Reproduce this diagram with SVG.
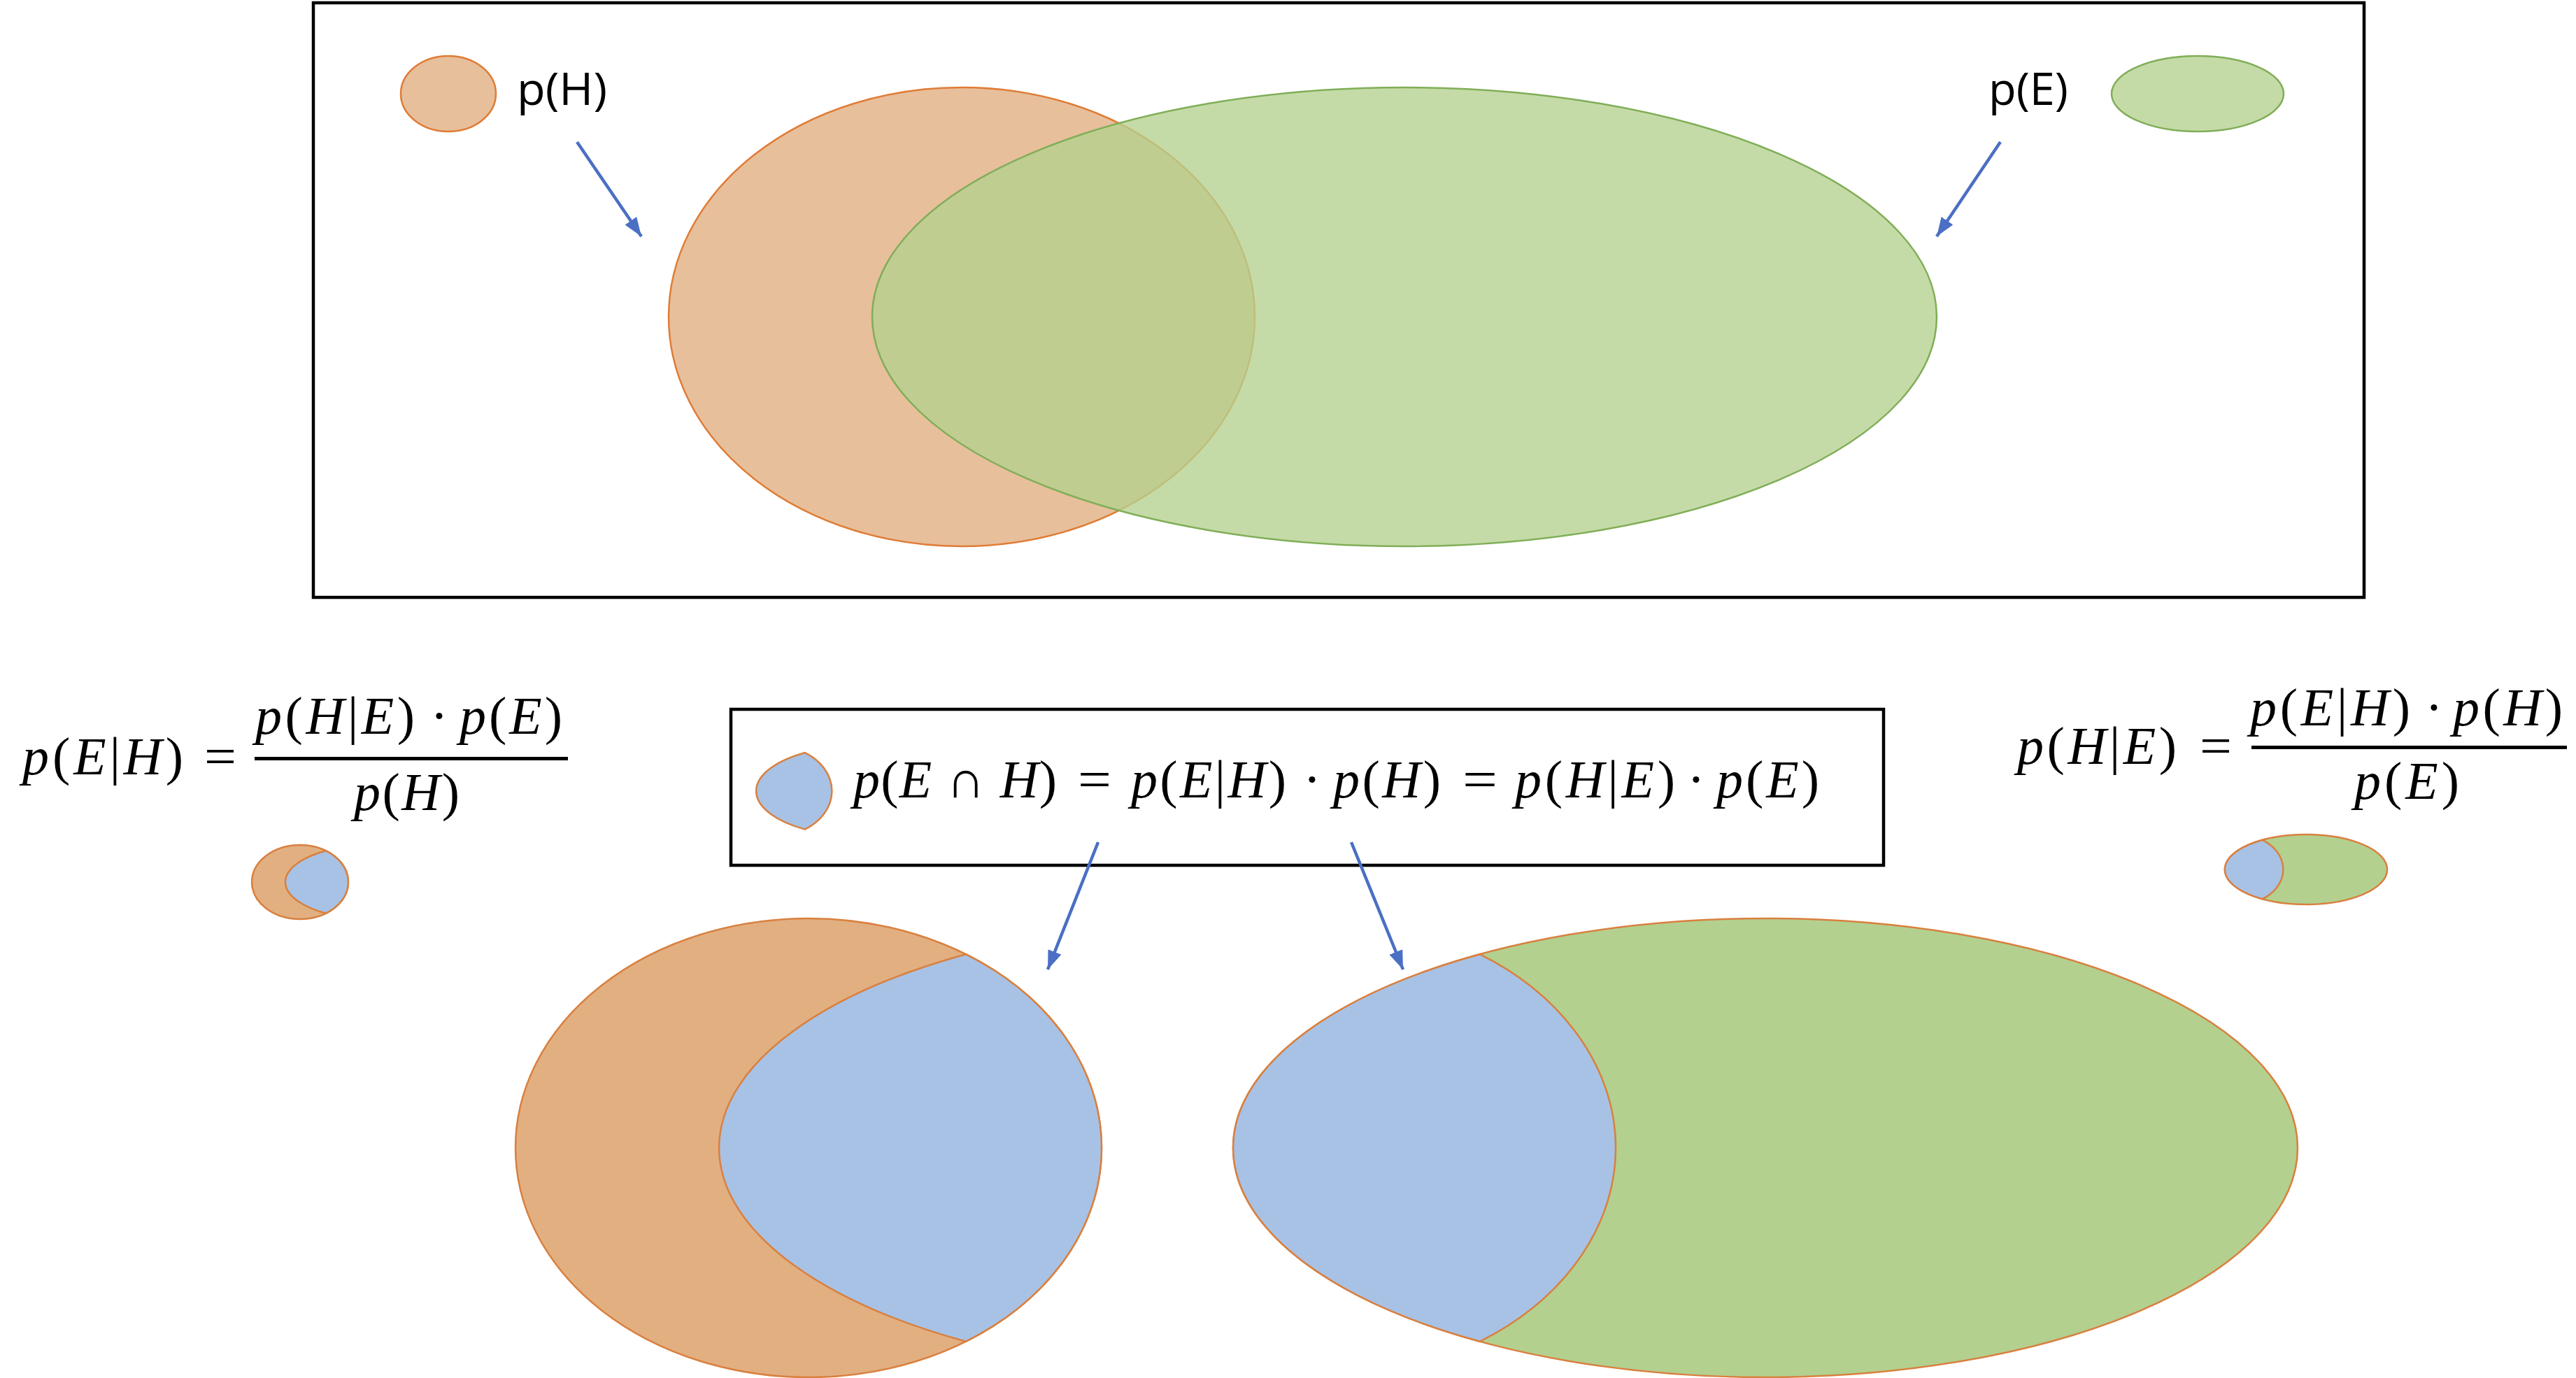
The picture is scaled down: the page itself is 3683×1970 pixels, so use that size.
<svg xmlns="http://www.w3.org/2000/svg" xmlns:xlink="http://www.w3.org/1999/xlink" width="3683" height="1970" viewBox="0 0 3683 1970">
<style>
.box{fill:none;stroke:#000;stroke-width:4.5}
.lbl{font-family:"Open Sans","Liberation Sans",Arial,sans-serif;font-size:64px;fill:#000}
.m{font-family:"Liberation Serif","Times New Roman",serif;font-size:76px;fill:#000}
.i{font-style:italic}
.tor{fill:#E7BF9B;stroke:#E07C36;stroke-width:2.5}
.tgr{fill:#B5D18E;fill-opacity:0.78;stroke:#80AE58;stroke-width:2.5}
.tgr2{fill:#C5DBA7;stroke:#80AE58;stroke-width:2.5}
.lor{fill:#E2AF81;stroke:#D9803F;stroke-width:2.5;vector-effect:non-scaling-stroke}
.lgr{fill:#B3D08F;stroke:#D9803F;stroke-width:2.5;vector-effect:non-scaling-stroke}
.lbl2{fill:#A8C2E5;stroke:#D9803F;stroke-width:2.5;vector-effect:non-scaling-stroke}
.arr{stroke:#4A6FC4;stroke-width:4.5;fill:none;marker-end:url(#ah)}
.bar{fill:#000}
</style>
<defs>
<marker id="ah" viewBox="0 0 10 10" refX="10" refY="5" markerWidth="6" markerHeight="4.5" markerUnits="strokeWidth" orient="auto" preserveAspectRatio="none">
<path d="M0,0 L10,5 L0,10 Z" fill="#4A6FC4"/>
</marker>
<path id="lens" class="lbl2" d="M1599.8,176.2 A761,328 0 0 0 1599.8,729.8 A419,328 0 0 0 1599.8,176.2 Z"/>
</defs>

<g id="top-frame">
<rect class="box" x="448" y="4" width="2932" height="850"/>
</g>

<g id="legend-H">
<ellipse class="tor" cx="641" cy="134" rx="68" ry="54"/>
<text class="lbl" x="739" y="150" textLength="129" lengthAdjust="spacingAndGlyphs">p(H)</text>
</g>

<g id="legend-E">
<ellipse class="tgr2" cx="3142" cy="134" rx="123" ry="54"/>
<text class="lbl" x="2843" y="150" textLength="114" lengthAdjust="spacingAndGlyphs">p(E)</text>
</g>

<g id="venn-top">
<ellipse id="set-H" class="tor" cx="1375" cy="453" rx="419" ry="328"/>
<ellipse id="set-E" class="tgr" cx="2008" cy="453" rx="761" ry="328"/>
</g>

<g id="formula-EgivenH">
<text class="m" x="32" y="1107" textLength="230" lengthAdjust="spacing"><tspan class="i">p</tspan>(<tspan class="i">E</tspan>|<tspan class="i">H</tspan>)</text>
<text class="m" x="292" y="1107" textLength="46" lengthAdjust="spacingAndGlyphs">=</text>
<text class="m" x="365" y="1049" textLength="228" lengthAdjust="spacing"><tspan class="i">p</tspan>(<tspan class="i">H</tspan>|<tspan class="i">E</tspan>)</text>
<text class="m" x="628" y="1049" text-anchor="middle">·</text>
<text class="m" x="657" y="1049" textLength="147" lengthAdjust="spacing"><tspan class="i">p</tspan>(<tspan class="i">E</tspan>)</text>
<rect class="bar" x="364" y="1082" width="448" height="5"/>
<text class="m" x="506" y="1158" textLength="151" lengthAdjust="spacing"><tspan class="i">p</tspan>(<tspan class="i">H</tspan>)</text>
</g>

<g id="icon-left" transform="translate(429,1261) scale(0.1645,0.1616) translate(-1156,-1641)">
<ellipse class="lor" cx="1156" cy="1641" rx="419" ry="328"/>
<use xlink:href="#lens" href="#lens" transform="translate(-219,1188)"/>
</g>

<g id="intersection-box">
<rect class="box" x="1045" y="1014" width="1648" height="223"/>
<use xlink:href="#lens" href="#lens" transform="translate(1151,1076) scale(0.198) translate(-1600,-176)"/>
<text class="m" x="1220" y="1140" textLength="291" lengthAdjust="spacing"><tspan class="i">p</tspan>(<tspan class="i">E</tspan> ∩ <tspan class="i">H</tspan>)</text>
<text class="m" x="1541" y="1140" textLength="48" lengthAdjust="spacingAndGlyphs">=</text>
<text class="m" x="1617" y="1140" textLength="222" lengthAdjust="spacing"><tspan class="i">p</tspan>(<tspan class="i">E</tspan>|<tspan class="i">H</tspan>)</text>
<text class="m" x="1876" y="1140" text-anchor="middle">·</text>
<text class="m" x="1906" y="1140" textLength="154" lengthAdjust="spacing"><tspan class="i">p</tspan>(<tspan class="i">H</tspan>)</text>
<text class="m" x="2091" y="1140" textLength="50" lengthAdjust="spacingAndGlyphs">=</text>
<text class="m" x="2166" y="1140" textLength="229" lengthAdjust="spacing"><tspan class="i">p</tspan>(<tspan class="i">H</tspan>|<tspan class="i">E</tspan>)</text>
<text class="m" x="2425" y="1140" text-anchor="middle">·</text>
<text class="m" x="2454" y="1140" textLength="147" lengthAdjust="spacing"><tspan class="i">p</tspan>(<tspan class="i">E</tspan>)</text>
</g>

<g id="formula-HgivenE">
<text class="m" x="2884" y="1092" textLength="228" lengthAdjust="spacing"><tspan class="i">p</tspan>(<tspan class="i">H</tspan>|<tspan class="i">E</tspan>)</text>
<text class="m" x="3145" y="1092" textLength="46" lengthAdjust="spacingAndGlyphs">=</text>
<text class="m" x="3217" y="1037" textLength="229" lengthAdjust="spacing"><tspan class="i">p</tspan>(<tspan class="i">E</tspan>|<tspan class="i">H</tspan>)</text>
<text class="m" x="3480" y="1037" text-anchor="middle">·</text>
<text class="m" x="3507" y="1037" textLength="157" lengthAdjust="spacing"><tspan class="i">p</tspan>(<tspan class="i">H</tspan>)</text>
<rect class="bar" x="3219" y="1066" width="451" height="5"/>
<text class="m" x="3366" y="1142" textLength="150" lengthAdjust="spacing"><tspan class="i">p</tspan>(<tspan class="i">E</tspan>)</text>
</g>

<g id="icon-right" transform="translate(3297,1243) scale(0.1526) translate(-2524,-1641)">
<ellipse class="lgr" cx="2524" cy="1641" rx="761" ry="328"/>
<use xlink:href="#lens" href="#lens" transform="translate(516,1188)"/>
</g>

<g id="venn-H-given">
<ellipse class="lor" cx="1156" cy="1641" rx="419" ry="328"/>
<use xlink:href="#lens" href="#lens" transform="translate(-219,1188)"/>
</g>

<g id="venn-E-given">
<ellipse class="lgr" cx="2524" cy="1641" rx="761" ry="328"/>
<use xlink:href="#lens" href="#lens" transform="translate(516,1188)"/>
</g>

<g id="connectors">
<line class="arr" x1="825" y1="203" x2="917" y2="338"/>
<line class="arr" x1="2860" y1="203" x2="2769" y2="338"/>
<line class="arr" x1="1570" y1="1204" x2="1498" y2="1386"/>
<line class="arr" x1="1932" y1="1204" x2="2006" y2="1386"/>
</g>
</svg>
